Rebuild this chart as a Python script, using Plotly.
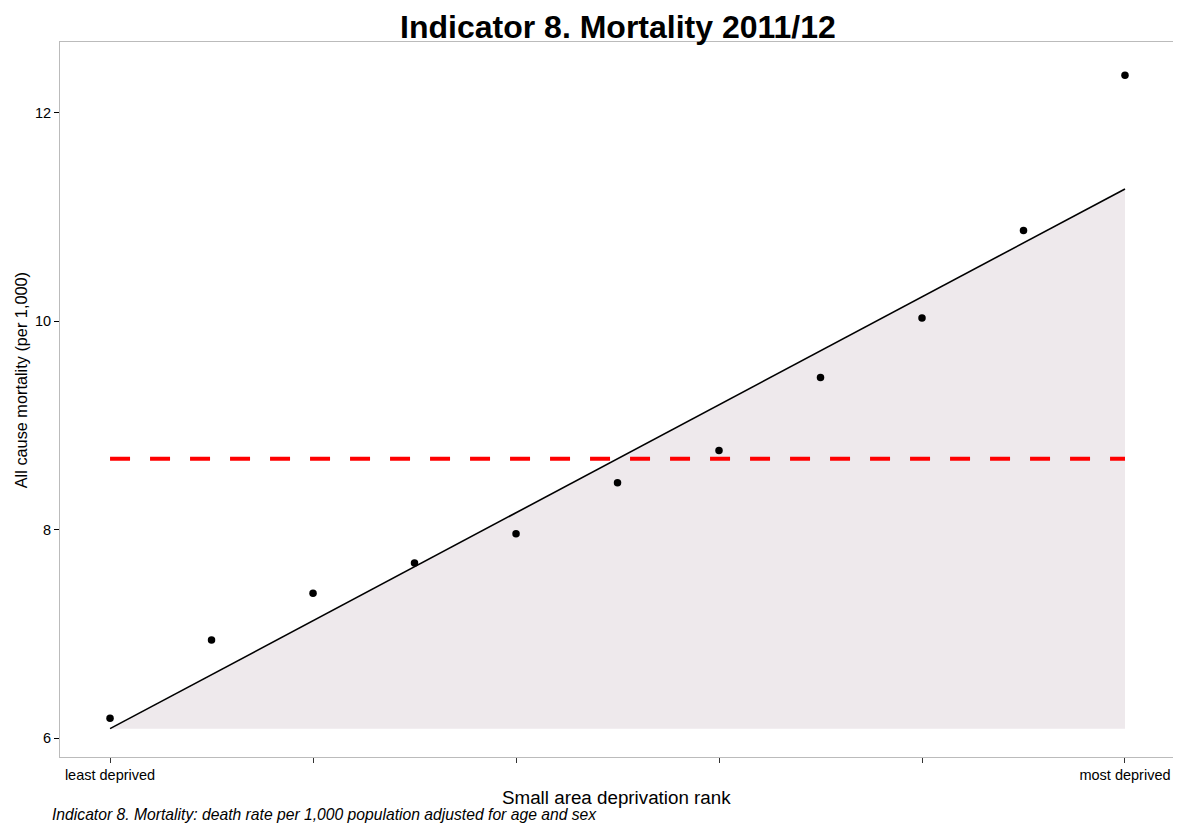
import plotly.graph_objects as go

rank = [0.0, 0.1, 0.2, 0.3, 0.4, 0.5, 0.6, 0.7, 0.8, 0.9, 1.0]
mortality = [6.19, 6.94, 7.39, 7.68, 7.96, 8.45, 8.76, 9.46, 10.03, 10.87, 12.36]
fit_x = [0.0, 1.0]
fit_y = [6.09, 11.27]
average = 8.68
xtick_vals = [0.0, 0.2, 0.4, 0.6, 0.8, 1.0]
xtick_text = ["least deprived", "", "", "", "", "most deprived"]
ytick_vals = [6, 8, 10, 12]

fig = go.Figure()
fig.add_trace(go.Scatter(x=fit_x, y=[fit_y[0], fit_y[0]], mode="lines",
                         line=dict(width=0, color="rgba(0,0,0,0)"), hoverinfo="skip", showlegend=False))
fig.add_trace(go.Scatter(x=fit_x, y=fit_y, mode="lines", fill="tonexty",
                         fillcolor="#EEE9EC", line=dict(color="black", width=1.6), showlegend=False))
fig.add_trace(go.Scatter(x=fit_x, y=[average, average], mode="lines",
                         line=dict(color="#FF0000", width=4, dash="20px,20px"), showlegend=False))
fig.add_trace(go.Scatter(x=rank, y=mortality, mode="markers",
                         marker=dict(color="black", size=7.5), showlegend=False))

fig.update_layout(
    width=1173, height=826,
    margin=dict(l=52, r=8, t=34, b=77, autoexpand=False),
    paper_bgcolor="white", plot_bgcolor="white",
    font=dict(family="Liberation Sans, Arial, sans-serif", color="black"),
    title=dict(text="<b>Indicator 8. Mortality 2011/12</b>", x=0.520, xanchor="center", xref="container",
               y=0.977, yanchor="middle", yref="container", font=dict(size=32, color="black")),
    xaxis=dict(range=[-0.0493, 1.0473], tickvals=xtick_vals, ticktext=xtick_text,
               ticks="outside", ticklen=5, tickcolor="#333333", tickwidth=1,
               showgrid=False, zeroline=False, showline=True, linecolor="#BBBBBB",
               linewidth=1, mirror=True, tickfont=dict(size=14.5, color="black"),
               automargin=False),
    yaxis=dict(range=[5.818, 12.68], tickvals=ytick_vals,
               ticks="outside", ticklen=5, tickcolor="black", tickwidth=1,
               showgrid=False, zeroline=False, showline=True, linecolor="#BBBBBB",
               linewidth=1, mirror=True, tickfont=dict(size=14.5, color="black"),
               automargin=False),
)
fig.add_annotation(text="Small area deprivation rank", xref="paper", yref="paper",
                   x=0.5004, y=-0.056, xanchor="center", yanchor="middle", showarrow=False,
                   font=dict(size=18.8, color="black"))
fig.add_annotation(text="All cause mortality (per 1,000)", xref="paper", yref="paper",
                   x=-0.035, y=0.527, xanchor="center", yanchor="middle", textangle=-90,
                   showarrow=False, font=dict(size=16.3, color="black"))
fig.add_annotation(text="<i>Indicator 8. Mortality: death rate per 1,000 population adjusted for age and sex</i>",
                   xref="paper", yref="paper", x=-0.009, y=-0.081, xanchor="left", yanchor="middle",
                   showarrow=False, font=dict(size=15.7, color="black"))

fig.write_html("out.html")
